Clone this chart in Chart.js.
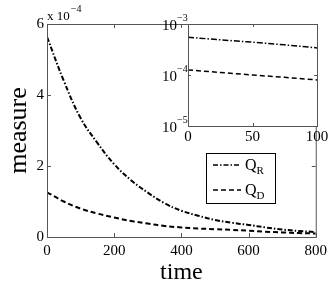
<!DOCTYPE html>
<html>
<head>
<meta charset="utf-8">
<script src="https://cdn.jsdelivr.net/npm/chart.js@4/dist/chart.umd.min.js"></script>
<style>
  html, body { margin: 0; padding: 0; background: #fff; }
  #wrap { position: relative; width: 332px; height: 287px; }
  #mainChart { position: absolute; left: 0; top: 0; }
  #insetChart { position: absolute; left: 150px; top: 10px; }
</style>
</head>
<body>
<div id="wrap">
  <canvas id="mainChart" width="332" height="287"></canvas>
  <canvas id="insetChart" width="182" height="140"></canvas>
</div>
<script>
// main plot data (values in units of 1)
const times = [0, 50, 100, 150, 200, 250, 300, 350, 400, 450, 500, 550, 600, 650, 700, 750, 800];
const qR = [5.64e-4, 4.4e-4, 3.35e-4, 2.65e-4, 2.05e-4, 1.6e-4, 1.25e-4, 0.95e-4, 0.74e-4, 0.6e-4, 0.48e-4, 0.4e-4, 0.34e-4, 0.27e-4, 0.21e-4, 0.17e-4, 0.14e-4];
const qD = [1.26e-4, 1.0e-4, 0.8e-4, 0.66e-4, 0.55e-4, 0.45e-4, 0.38e-4, 0.31e-4, 0.27e-4, 0.24e-4, 0.22e-4, 0.2e-4, 0.18e-4, 0.15e-4, 0.13e-4, 0.11e-4, 0.1e-4];

// inset data (log scale)
const insetTimes = [0, 25, 50, 75, 100];
const insetQR = [5.5e-4, 4.9e-4, 4.4e-4, 3.9e-4, 3.4e-4];
const insetQD = [1.26e-4, 1.12e-4, 1.0e-4, 0.9e-4, 0.8e-4];

const xTicks = [0, 200, 400, 600, 800];
const yTicks = [0, 2e-4, 4e-4, 6e-4];
const insetXTicks = [0, 50, 100];
const insetYExps = [-3, -4, -5];
const seriesNames = [['Q', 'R'], ['Q', 'D']];

const serif = '"Liberation Serif", "DejaVu Serif", serif';
const axisColor = '#555';
const dashDot = [5, 2, 1.5, 2];
const dashed = [5, 3];

function pts(xs, ys) {
    return xs.map((x, i) => ({ x: x, y: ys[i] }));
}

// inward ticks on all four sides
function drawInwardTicks(chart, xs, ys, len) {
    const ctx = chart.ctx;
    const a = chart.chartArea;
    const sx = chart.scales.x, sy = chart.scales.y;
    ctx.save();
    ctx.strokeStyle = axisColor;
    ctx.lineWidth = 1;
    ctx.beginPath();
    xs.forEach(v => {
        const px = Math.round(sx.getPixelForValue(v)) + 0.5;
        ctx.moveTo(px, a.bottom); ctx.lineTo(px, a.bottom - len);
        ctx.moveTo(px, a.top); ctx.lineTo(px, a.top + len);
    });
    ys.forEach(v => {
        const py = Math.round(sy.getPixelForValue(v)) + 0.5;
        ctx.moveTo(a.left, py); ctx.lineTo(a.left + len, py);
        ctx.moveTo(a.right, py); ctx.lineTo(a.right - len, py);
    });
    ctx.stroke();
    ctx.strokeRect(a.left + 0.5, a.top + 0.5, a.right - a.left, a.bottom - a.top);
    ctx.restore();
}

const mainDecor = {
    id: 'mainDecor',
    afterDraw(chart) {
        drawInwardTicks(chart, xTicks, yTicks, 4);
        const ctx = chart.ctx;
        const a = chart.chartArea;
        ctx.save();
        ctx.fillStyle = '#000';
        // multiplier
        ctx.font = '13px ' + serif;
        ctx.textBaseline = 'alphabetic';
        ctx.textAlign = 'left';
        ctx.fillText('x 10', a.left, 20);
        const w = ctx.measureText('x 10').width;
        ctx.font = '10px ' + serif;
        ctx.fillText('\u22124', a.left + w + 1, 12);

        // legend
        const bx = 206, by = 153, bw = 69, bh = 50;
        ctx.fillStyle = '#fff';
        ctx.fillRect(bx, by, bw, bh);
        ctx.strokeStyle = '#000';
        ctx.lineWidth = 1;
        ctx.strokeRect(bx + 0.5, by + 0.5, bw, bh);
        const rows = [165, 190];
        const dashes = [dashDot, dashed];
        rows.forEach((ry, i) => {
            ctx.setLineDash(dashes[i]);
            ctx.lineWidth = 1.5;
            ctx.beginPath();
            ctx.moveTo(213, ry);
            ctx.lineTo(241, ry);
            ctx.stroke();
            ctx.setLineDash([]);
            ctx.fillStyle = '#000';
            ctx.font = '16px ' + serif;
            ctx.textBaseline = 'alphabetic';
            ctx.fillText(seriesNames[i][0], 245, ry + 5);
            const qw = ctx.measureText(seriesNames[i][0]).width;
            ctx.font = '11px ' + serif;
            ctx.fillText(seriesNames[i][1], 245 + qw, ry + 9);
        });
        ctx.restore();
    }
};

const mainChart = new Chart(document.getElementById('mainChart'), {
    type: 'line',
    data: {
        datasets: [
            {
                label: 'Q_R',
                data: pts(times, qR),
                borderColor: '#000',
                borderWidth: 2,
                borderDash: dashDot,
                pointRadius: 0,
                tension: 0.4,
                fill: false
            },
            {
                label: 'Q_D',
                data: pts(times, qD),
                borderColor: '#000',
                borderWidth: 2,
                borderDash: dashed,
                pointRadius: 0,
                tension: 0.4,
                fill: false
            }
        ]
    },
    options: {
        responsive: false,
        animation: false,
        layout: { padding: { top: 24, right: 15, left: 0, bottom: 0 } },
        plugins: { legend: { display: false }, tooltip: { enabled: false } },
        scales: {
            x: {
                type: 'linear',
                min: 0,
                max: 800,
                afterFit: s => { s.height = 50; },
                afterBuildTicks: s => { s.ticks = xTicks.map(v => ({ value: v })); },
                grid: { display: false, drawTicks: false },
                border: { display: false },
                ticks: { color: '#000', font: { family: serif, size: 15 }, padding: 5, maxRotation: 0 },
                title: { display: true, text: 'time', color: '#000', font: { family: serif, size: 24 }, padding: { top: 0, bottom: 0 } }
            },
            y: {
                type: 'linear',
                min: 0,
                max: 6e-4,
                afterFit: s => { s.width = 47; },
                afterBuildTicks: s => { s.ticks = yTicks.map(v => ({ value: v })); },
                grid: { display: false, drawTicks: false },
                border: { display: false },
                ticks: { color: '#000', font: { family: serif, size: 15 }, padding: 3, callback: v => Math.round(v * 1e4) },
                title: { display: true, text: 'measure', color: '#000', font: { family: serif, size: 26 }, padding: { top: 4, bottom: 0 } }
            }
        }
    },
    plugins: [mainDecor]
});

const insetDecor = {
    id: 'insetDecor',
    beforeDatasetsDraw(chart) {
        const a = chart.chartArea;
        chart.ctx.save();
        chart.ctx.fillStyle = '#fff';
        chart.ctx.fillRect(a.left, a.top, a.right - a.left, a.bottom - a.top);
        chart.ctx.restore();
    },
    afterDraw(chart) {
        drawInwardTicks(chart, insetXTicks, insetYExps.map(e => Math.pow(10, e)), 3);
        const ctx = chart.ctx;
        const sy = chart.scales.y;
        const a = chart.chartArea;
        ctx.save();
        ctx.fillStyle = '#000';
        insetYExps.forEach(e => {
            const py = sy.getPixelForValue(Math.pow(10, e));
            ctx.font = '15px ' + serif;
            ctx.textAlign = 'right';
            ctx.textBaseline = 'middle';
            ctx.fillText('10', a.left - 11, py + 2);
            ctx.font = '10px ' + serif;
            ctx.textAlign = 'left';
            ctx.fillText('\u2212' + Math.abs(e), a.left - 11, py - 6);
        });
        ctx.restore();
    }
};

const insetChart = new Chart(document.getElementById('insetChart'), {
    type: 'line',
    data: {
        datasets: [
            {
                label: 'Q_R',
                data: pts(insetTimes, insetQR),
                borderColor: '#000',
                borderWidth: 1.5,
                borderDash: [6, 2, 1.5, 2],
                pointRadius: 0,
                fill: false
            },
            {
                label: 'Q_D',
                data: pts(insetTimes, insetQD),
                borderColor: '#000',
                borderWidth: 1.5,
                borderDash: dashed,
                pointRadius: 0,
                fill: false
            }
        ]
    },
    options: {
        responsive: false,
        animation: false,
        layout: { padding: { top: 14, right: 15, left: 0, bottom: 0 } },
        plugins: { legend: { display: false }, tooltip: { enabled: false } },
        scales: {
            x: {
                type: 'linear',
                min: 0,
                max: 100,
                afterFit: s => { s.height = 24; },
                afterBuildTicks: s => { s.ticks = insetXTicks.map(v => ({ value: v })); },
                grid: { display: false, drawTicks: false },
                border: { display: false },
                ticks: { color: '#000', font: { family: serif, size: 15 }, padding: 2, maxRotation: 0 }
            },
            y: {
                type: 'logarithmic',
                min: 1e-5,
                max: 1e-3,
                afterFit: s => { s.width = 38; },
                grid: { display: false, drawTicks: false },
                border: { display: false },
                ticks: { display: false }
            }
        }
    },
    plugins: [insetDecor]
});
</script>
</body>
</html>
